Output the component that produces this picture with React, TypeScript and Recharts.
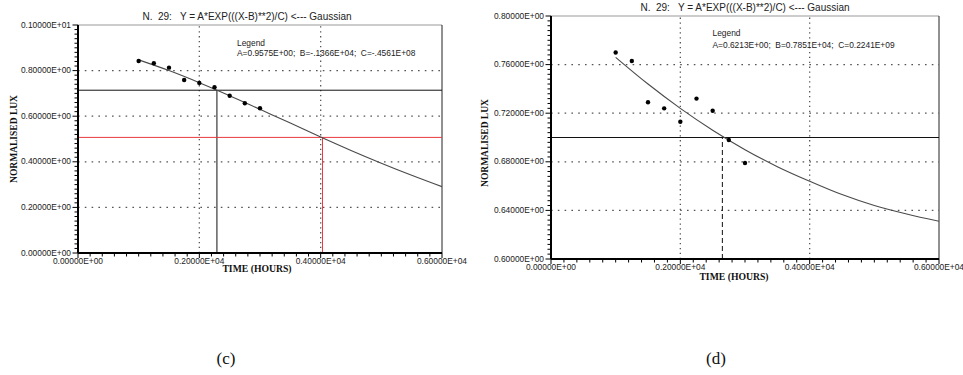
import React from 'react';
import { ComposedChart, Line, Scatter, XAxis, YAxis, ReferenceLine } from 'recharts';

// ---------- Panel (c) ----------
const cPointHours = [1000, 1250, 1500, 1750, 2000, 2250, 2500, 2750, 3000];
const cPointLux = [0.842, 0.832, 0.813, 0.759, 0.746, 0.727, 0.69, 0.657, 0.635];
const cCurveHours = [1000, 1500, 2000, 2500, 3000, 3500, 4000, 4500, 5000, 5500, 6000];
const cCurveLux = [0.847, 0.8, 0.747, 0.69, 0.63, 0.57, 0.509, 0.45, 0.394, 0.341, 0.291];
const cYTicks = [0, 0.2, 0.4, 0.6, 0.8, 1.0];
const cYTickLabels = ['0.00000E+00', '0.20000E+00', '0.40000E+00', '0.60000E+00', '0.80000E+00', '0.10000E+01'];
const cGridY = [0.2, 0.4, 0.6, 0.8];
const cCross = { hours: 2290, lux: 0.714 };
const cRedCross = { hours: 4030, lux: 0.507 };
const cLegend = 'A=0.9575E+00;  B=-.1366E+04;  C=-.4561E+08';

// ---------- Panel (d) ----------
const dPointHours = [1000, 1250, 1500, 1750, 2000, 2250, 2500, 2750, 3000];
const dPointLux = [0.77, 0.763, 0.729, 0.724, 0.713, 0.732, 0.722, 0.698, 0.679];
const dCurveHours = [1000, 1500, 2000, 2500, 3000, 3500, 4000, 4500, 5000, 5500, 6000];
const dCurveLux = [0.766, 0.744, 0.724, 0.706, 0.69, 0.676, 0.664, 0.653, 0.644, 0.637, 0.631];
const dYTicks = [0.6, 0.64, 0.68, 0.72, 0.76, 0.8];
const dYTickLabels = ['0.60000E+00', '0.64000E+00', '0.68000E+00', '0.72000E+00', '0.76000E+00', '0.80000E+00'];
const dGridY = [0.64, 0.68, 0.72, 0.76];
const dCross = { hours: 2650, lux: 0.7 };
const dLegend = 'A=0.6213E+00;  B=0.7851E+04;  C=0.2241E+09';

// ---------- shared ----------
const xTicks = [0, 2000, 4000, 6000];
const xTickLabels = ['0.00000E+00', '0.20000E+04', '0.40000E+04', '0.60000E+04'];
const gridX = [2000, 4000];
const title = 'N.  29:   Y = A*EXP(((X-B)**2)/C) <--- Gaussian';

const SANS = '"Liberation Sans", Arial, sans-serif';
const SERIF = '"Liberation Serif", "Times New Roman", serif';

function minorTicks(min: number, max: number, step: number): number[] {
  const out: number[] = [];
  const n = Math.round((max - min) / step);
  for (let i = 0; i <= n; i++) out.push(Math.round((min + i * step) * 1e6) / 1e6);
  return out;
}

function makeXTick(majors: number[], labels: string[]) {
  return (props: any) => {
    const { x, y, payload } = props;
    const idx = majors.findIndex((m) => Math.abs(m - payload.value) < 1e-6);
    const major = idx >= 0;
    return (
      <g>
        <line x1={x} x2={x} y1={y} y2={y + (major ? 5 : 3.5)} stroke="#000" strokeWidth={1} />
        {major && (
          <text x={x} y={y + 10.5} textAnchor="middle" fontSize={8.4} fontFamily={SANS} fill="#222">
            {labels[idx]}
          </text>
        )}
      </g>
    );
  };
}

function makeYTick(majors: number[], labels: string[]) {
  return (props: any) => {
    const { x, y, payload } = props;
    const idx = majors.findIndex((m) => Math.abs(m - payload.value) < 1e-6);
    const major = idx >= 0;
    return (
      <g>
        <line x1={x} x2={x - (major ? 5.5 : 3.5)} y1={y} y2={y} stroke="#000" strokeWidth={1} />
        {major && (
          <text x={x - 7} y={y} dy="0.3em" textAnchor="end" fontSize={8.4} fontFamily={SANS} fill="#222">
            {labels[idx]}
          </text>
        )}
      </g>
    );
  };
}

const dot = (p: any) => <circle cx={p.cx} cy={p.cy} r={2.2} fill="#000" />;

interface PanelProps {
  width: number;
  height: number;
  margin: { top: number; right: number; bottom: number; left: number };
  yAxisWidth: number;
  xAxisHeight: number;
  yDomain: [number, number];
  yTicks: number[];
  yTickLabels: string[];
  yMinorStep: number;
  gridY: number[];
  points: { x: number; y: number }[];
  curve: { x: number; y: number }[];
  children?: React.ReactNode;
}

function Panel(p: PanelProps) {
  const xAll = minorTicks(0, 6000, 200);
  const yAll = minorTicks(p.yDomain[0], p.yDomain[1], p.yMinorStep);
  return (
    <ComposedChart width={p.width} height={p.height} margin={p.margin}>
      <XAxis
        type="number"
        dataKey="x"
        domain={[0, 6000]}
        ticks={xAll}
        interval={0}
        tickSize={0}
        tickMargin={0}
        tickLine={false}
        tick={makeXTick(xTicks, xTickLabels)}
        axisLine={{ stroke: '#000', strokeWidth: 2 }}
        height={p.xAxisHeight}
        allowDataOverflow
      />
      <YAxis
        type="number"
        dataKey="y"
        domain={p.yDomain}
        ticks={yAll}
        interval={0}
        tickSize={0}
        tickMargin={0}
        tickLine={false}
        tick={makeYTick(p.yTicks, p.yTickLabels)}
        axisLine={{ stroke: '#000', strokeWidth: 2 }}
        width={p.yAxisWidth}
        allowDataOverflow
      />
      {p.gridY.map((v) => (
        <ReferenceLine key={'gy' + v} y={v} stroke="#555" strokeWidth={1.3} strokeDasharray="1.6 5.2" />
      ))}
      {gridX.map((v) => (
        <ReferenceLine key={'gx' + v} x={v} stroke="#555" strokeWidth={1.3} strokeDasharray="1.3 3.6" />
      ))}
      <ReferenceLine y={p.yDomain[1]} stroke="#999" strokeWidth={1} />
      <ReferenceLine x={6000} stroke="#222" strokeWidth={1} />
      {p.children}
      <Line
        data={p.curve}
        dataKey="y"
        type="monotone"
        dot={false}
        stroke="#4a4a4a"
        strokeWidth={1.1}
        isAnimationActive={false}
      />
      <Scatter data={p.points} dataKey="y" shape={dot} isAnimationActive={false} />
    </ComposedChart>
  );
}

export default function App() {
  const cPoints = cPointHours.map((h, i) => ({ x: h, y: cPointLux[i] }));
  const cCurve = cCurveHours.map((h, i) => ({ x: h, y: cCurveLux[i] }));
  const dPoints = dPointHours.map((h, i) => ({ x: h, y: dPointLux[i] }));
  const dCurve = dCurveHours.map((h, i) => ({ x: h, y: dCurveLux[i] }));

  const textStyle: React.CSSProperties = { pointerEvents: 'none' };

  return (
    <div style={{ position: 'absolute', left: 0, top: 0, width: 963, height: 375, background: '#fff', overflow: 'hidden' }}>
      <div style={{ position: 'absolute', left: 0, top: 0 }}>
        <Panel
          width={480}
          height={300}
          margin={{ top: 25, right: 38, bottom: 0, left: 0 }}
          yAxisWidth={78}
          xAxisHeight={47}
          yDomain={[0, 1]}
          yTicks={cYTicks}
          yTickLabels={cYTickLabels}
          yMinorStep={0.02}
          gridY={cGridY}
          points={cPoints}
          curve={cCurve}
        >
          <ReferenceLine y={cCross.lux} stroke="#111" strokeWidth={1} />
          <ReferenceLine
            segment={[
              { x: cCross.hours, y: 0 },
              { x: cCross.hours, y: cCross.lux },
            ]}
            stroke="#111"
            strokeWidth={1}
          />
          <ReferenceLine y={cRedCross.lux} stroke="#e8393e" strokeWidth={1} />
          <ReferenceLine
            segment={[
              { x: cRedCross.hours, y: 0 },
              { x: cRedCross.hours, y: cRedCross.lux },
            ]}
            stroke="#e8393e"
            strokeWidth={1}
          />
        </Panel>
      </div>
      <div style={{ position: 'absolute', left: 480, top: 0 }}>
        <Panel
          width={483}
          height={300}
          margin={{ top: 16, right: 24, bottom: 0, left: 0 }}
          yAxisWidth={71}
          xAxisHeight={41}
          yDomain={[0.6, 0.8]}
          yTicks={dYTicks}
          yTickLabels={dYTickLabels}
          yMinorStep={0.004}
          gridY={dGridY}
          points={dPoints}
          curve={dCurve}
        >
          <ReferenceLine y={dCross.lux} stroke="#111" strokeWidth={1} />
          <ReferenceLine
            segment={[
              { x: dCross.hours, y: 0.6 },
              { x: dCross.hours, y: dCross.lux },
            ]}
            stroke="#111"
            strokeWidth={1}
            strokeDasharray="5 3"
          />
        </Panel>
      </div>
      <svg width={963} height={375} style={{ position: 'absolute', left: 0, top: 0, ...textStyle }}>
        {/* Panel (c) texts */}
        <text x={247} y={20} textAnchor="middle" fontSize={10} fontFamily={SANS} fill="#222" style={{ whiteSpace: 'pre' }}>
          {title}
        </text>
        <text x={237} y={45.5} fontSize={8.4} fontFamily={SANS} fill="#222">Legend</text>
        <text x={237} y={56} fontSize={8.4} fontFamily={SANS} fill="#222" style={{ whiteSpace: 'pre' }}>
          {cLegend}
        </text>
        <text x={257} y={271.5} textAnchor="middle" fontSize={9.7} fontWeight="bold" fontFamily={SERIF} fill="#111">
          TIME (HOURS)
        </text>
        <text
          x={14}
          y={139}
          dy="0.35em"
          textAnchor="middle"
          fontSize={9.5}
          fontWeight="bold"
          fontFamily={SERIF}
          fill="#111"
          transform="rotate(-90 14 139)"
        >
          NORMALISED LUX
        </text>
        <text x={226} y={364} textAnchor="middle" fontSize={17} fontFamily={SERIF} fill="#111">(c)</text>

        {/* Panel (d) texts */}
        <text x={745} y={10.8} textAnchor="middle" fontSize={10} fontFamily={SANS} fill="#222" style={{ whiteSpace: 'pre' }}>
          {title}
        </text>
        <text x={712.5} y={36.3} fontSize={8.4} fontFamily={SANS} fill="#222">Legend</text>
        <text x={712.5} y={48} fontSize={8.4} fontFamily={SANS} fill="#222" style={{ whiteSpace: 'pre' }}>
          {dLegend}
        </text>
        <text x={734} y={280} textAnchor="middle" fontSize={9.7} fontWeight="bold" fontFamily={SERIF} fill="#111">
          TIME (HOURS)
        </text>
        <text
          x={485}
          y={143}
          dy="0.35em"
          textAnchor="middle"
          fontSize={9.5}
          fontWeight="bold"
          fontFamily={SERIF}
          fill="#111"
          transform="rotate(-90 485 143)"
        >
          NORMALISED LUX
        </text>
        <text x={716} y={364} textAnchor="middle" fontSize={17} fontFamily={SERIF} fill="#111">(d)</text>
      </svg>
    </div>
  );
}
